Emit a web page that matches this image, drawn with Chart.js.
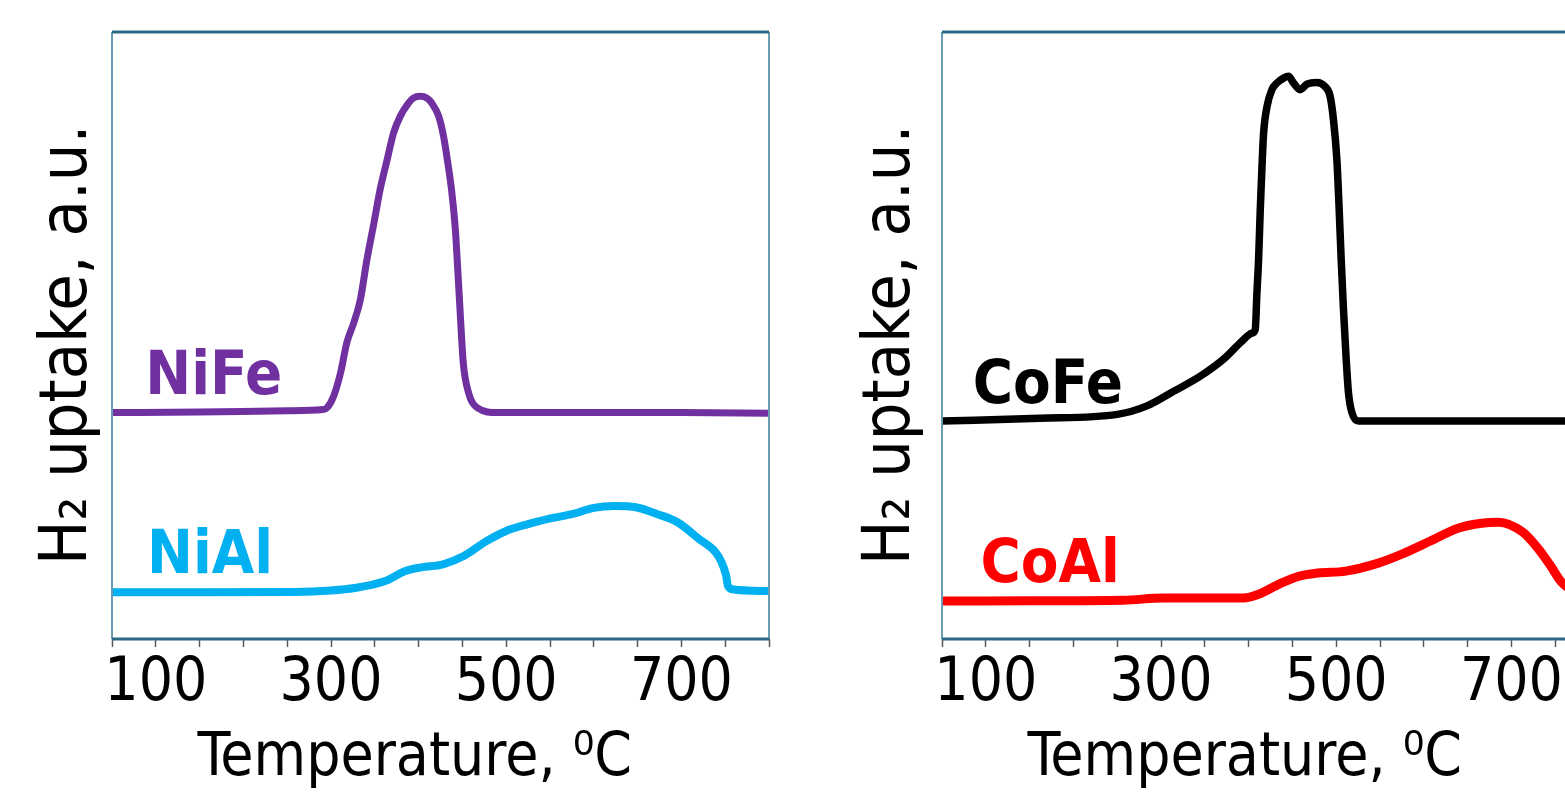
<!DOCTYPE html>
<html lang="en">
<head>
<meta charset="UTF-8">
<title>H2 uptake vs temperature</title>
<script src="https://cdn.jsdelivr.net/npm/chart.js@4.4.1/dist/chart.umd.min.js"></script>
<style>
  html, body { margin: 0; padding: 0; background: #fff; overflow: hidden; }
  body { width: 1565px; height: 800px; position: relative; }
  .panel { position: absolute; top: 0; width: 800px; height: 800px; }
  #left { left: 0; }
  #right { left: 830px; }
</style>
</head>
<body>
<div class="panel" id="left"><canvas id="chartLeft" width="800" height="800"></canvas></div>
<div class="panel" id="right"><canvas id="chartRight" width="800" height="800"></canvas></div>
<script>
// Temperatures (deg C) and H2 uptake (a.u., 0-100 plot scale)
const tempNiFe = [50, 150, 250, 291, 295.5, 303, 311, 318, 326, 333.5, 341, 349, 356, 364, 371.5, 379, 387, 394, 402, 409.5, 415, 423, 428.5, 434, 438, 442, 444.5, 447.5, 451, 457, 467, 490, 600, 700, 800];
const niFe     = [37.3, 37.4, 37.6, 37.8, 38.1, 40.0, 43.9, 48.8, 52.1, 55.9, 62.5, 68.5, 74.0, 78.9, 83.4, 86.1, 88.0, 89.1, 89.4, 89.1, 88.3, 86.1, 82.8, 77.8, 73.5, 67.4, 61.4, 53.7, 45.5, 40.6, 38.1, 37.3, 37.3, 37.3, 37.2];

const tempNiAl = [50, 150, 259, 300, 327, 361, 385, 403, 428, 452, 476, 500, 524, 552, 576, 600, 624, 648, 672, 696, 720, 739, 745, 751, 753, 758, 800];
const niAl     = [7.7, 7.7, 7.75, 8.0, 8.4, 9.5, 11.2, 11.8, 12.3, 13.7, 16.0, 17.8, 18.9, 19.9, 20.6, 21.6, 21.9, 21.7, 20.6, 19.2, 16.5, 14.3, 12.9, 10.5, 8.8, 8.2, 7.9];

const tempCoFe = [50, 162, 250, 284, 314.4, 344.9, 371.4, 390.5, 403.8, 407.6, 409.5, 411.4, 413.3, 415.3, 417.1, 421, 426.6, 432.3, 439.9, 445.6, 451.3, 458.9, 466.6, 478, 487.4, 493.1, 496.9, 500.8, 503.4, 505.7, 508.3, 511.4, 514, 517.9, 525.5, 600, 700, 800];
const coFe     = [35.9, 36.35, 37.0, 38.4, 40.8, 43.3, 46.1, 48.8, 50.4, 51.0, 57.0, 62.5, 70.7, 77.9, 83.3, 87.7, 90.5, 91.6, 92.4, 92.7, 91.6, 90.5, 91.4, 91.7, 91.0, 89.4, 85.5, 78.9, 70.7, 62.5, 54.3, 46.1, 40.6, 37.3, 35.9, 35.9, 35.9, 35.9];

const tempCoAl = [50, 150, 257, 303, 394, 412, 435, 458, 479, 511, 548, 575, 607, 639, 666, 685, 713, 731, 745, 757, 775, 800];
const coAl     = [6.25, 6.3, 6.4, 6.74, 6.74, 7.4, 9.05, 10.36, 10.86, 11.18, 12.5, 13.98, 16.1, 18.26, 19.08, 19.24, 17.6, 14.8, 12.0, 9.4, 7.6, 6.9];

const tickLabels = [100, 300, 500, 700];

const FONT = "'Liberation Sans Narrow', 'Arial Narrow', 'DejaVu Sans Condensed', sans-serif";

function points(xs, ys) {
  return xs.map((x, i) => ({ x: x, y: ys[i] }));
}

function series(xs, ys, color, width) {
  return {
    data: points(xs, ys),
    borderColor: color,
    borderWidth: width,
    pointRadius: 0,
    cubicInterpolationMode: 'monotone',
    borderCapStyle: 'round',
    borderJoinStyle: 'round',
    fill: false
  };
}

/**
 * Box round the plot area: dark top/bottom, lighter sides
 */
const framePlugin = {
  id: 'frame',
  afterDatasetsDraw(chart) {
    const { ctx, chartArea: a } = chart;
    ctx.save();
    ctx.lineWidth = 2;
    ctx.strokeStyle = '#6a9cb3';
    ctx.beginPath();
    ctx.moveTo(a.left, a.top); ctx.lineTo(a.left, a.bottom);
    ctx.moveTo(a.right, a.top); ctx.lineTo(a.right, a.bottom);
    ctx.stroke();
    ctx.lineWidth = 3;
    ctx.strokeStyle = '#2a6884';
    ctx.beginPath();
    ctx.moveTo(a.left, a.top); ctx.lineTo(a.right, a.top);
    ctx.moveTo(a.left, a.bottom); ctx.lineTo(a.right, a.bottom);
    ctx.stroke();
    ctx.restore();
  }
};

/**
 * Series names written inside the plot, placed in data units
 */
const labelPlugin = {
  id: 'seriesLabels',
  afterDatasetsDraw(chart, args, opts) {
    const { ctx, scales } = chart;
    ctx.save();
    ctx.font = 'bold ' + opts.size + 'px ' + FONT;
    ctx.textAlign = 'left';
    ctx.textBaseline = 'alphabetic';
    opts.items.forEach(item => {
      ctx.fillStyle = item.color;
      ctx.fillText(item.text, scales.x.getPixelForValue(item.x), scales.y.getPixelForValue(item.y));
    });
    ctx.restore();
  }
};

// titleGap: space between the y title and the plot box
function buildChart(canvasId, datasets, labels, titleGap) {
  return new Chart(document.getElementById(canvasId), {
    type: 'line',
    data: { datasets: datasets },
    plugins: [framePlugin, labelPlugin],
    options: {
      responsive: false,
      animation: false,
      devicePixelRatio: 1,
      layout: { padding: { left: 46 - titleGap, right: 31, top: 32, bottom: 11 } },
      plugins: {
        legend: { display: false },
        tooltip: { enabled: false },
        seriesLabels: { size: 61, items: labels }
      },
      scales: {
        x: {
          type: 'linear',
          min: 50,
          max: 800,
          border: { display: false },
          grid: { drawOnChartArea: false, drawTicks: true, tickLength: 8, tickColor: '#595959', tickWidth: 1.5 },
          ticks: {
            stepSize: 50,
            autoSkip: false,
            maxRotation: 0,
            padding: 7,
            color: '#000',
            font: { family: FONT, size: 60, lineHeight: 1 },
            callback: v => tickLabels.includes(v) ? String(v) : ''
          },
          title: {
            display: true,
            text: 'Temperature, \u2070C   ',
            color: '#000',
            font: { family: FONT, size: 60, lineHeight: 1 },
            padding: { top: 8, bottom: 0 }
          }
        },
        y: {
          min: 0,
          max: 100,
          border: { display: false },
          grid: { display: false, drawTicks: false },
          ticks: { display: false },
          title: {
            display: true,
            text: 'H\u2082 uptake, a.u. ',
            color: '#000',
            font: { family: FONT, size: 66, lineHeight: 1 },
            padding: { top: 0, bottom: titleGap }
          }
        }
      }
    }
  });
}

buildChart('chartLeft', [
  series(tempNiFe, niFe, '#7030a0', 7),
  series(tempNiAl, niAl, '#00b0f0', 8)
], [
  { text: 'NiFe', x: 88, y: 40.3, color: '#7030a0' },
  { text: 'NiAl', x: 90, y: 10.9, color: '#00b0f0' }
], 10);

buildChart('chartRight', [
  series(tempCoFe, coFe, '#000000', 7.5),
  series(tempCoAl, coAl, '#ff0000', 9)
], [
  { text: 'CoFe', x: 85, y: 38.8, color: '#000000' },
  { text: 'CoAl', x: 94, y: 9.4, color: '#ff0000' }
], 17);
</script>
</body>
</html>
